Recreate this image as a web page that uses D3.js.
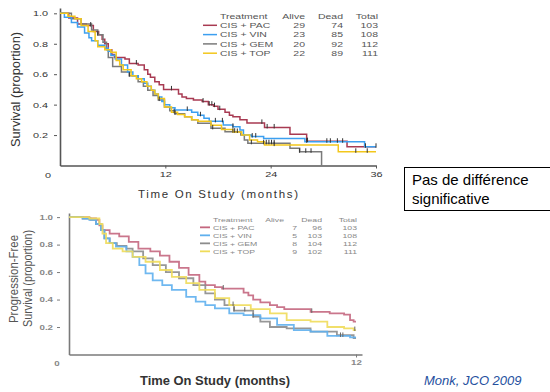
<!DOCTYPE html>
<html>
<head>
<meta charset="utf-8">
<script src="https://cdn.jsdelivr.net/npm/d3@7"></script>
<style>
body{margin:0;background:#fff;overflow:hidden}
svg{display:block;overflow:hidden;font-family:"Liberation Sans",Arial,sans-serif}
</style>
</head>
<body>
<svg id="vis" width="550" height="392"></svg>
<script>
//DATOS
var treatments = ["CIS + PAC", "CIS + VIN", "CIS + GEM", "CIS + TOP"];
var osAlive = [29, 23, 20, 22], osDead = [74, 85, 92, 89], osTotal = [103, 108, 112, 111];
var pfsAlive = [7, 5, 8, 9], pfsDead = [96, 103, 104, 102], pfsTotal = [103, 108, 112, 111];
var osTicksX = [12, 24, 36], pfsTicksX = [12];
var ticksY = [0.2, 0.4, 0.6, 0.8, 1.0];

//SOBREVIDA GLOBAL (meses, proporcion)
var osPacT = [0, 1.0, 2.0, 3.0, 3.8, 4.4, 4.8, 5.1, 5.5, 5.9, 6.2, 7.4, 7.9, 8.9, 9.6, 10.0, 10.3, 10.8, 11.3, 11.8, 13.5, 13.9, 14.4, 15.2, 16.2, 16.9, 17.5, 18.0, 18.8, 19.3, 19.7, 20.5, 21.3, 23.3, 26.2, 28.1, 32.7, 36];
var osPacS = [1.0, 0.97, 0.93, 0.92, 0.88, 0.86, 0.83, 0.80, 0.76, 0.73, 0.71, 0.70, 0.67, 0.66, 0.63, 0.60, 0.58, 0.55, 0.53, 0.50, 0.47, 0.45, 0.44, 0.43, 0.42, 0.40, 0.39, 0.37, 0.35, 0.33, 0.32, 0.30, 0.28, 0.25, 0.205, 0.16, 0.123, 0.123];
var osVinT = [0, 0.5, 1.3, 2.0, 2.8, 3.3, 3.6, 4.3, 5.1, 5.5, 5.8, 6.3, 7.0, 7.7, 8.3, 8.9, 9.6, 10.0, 10.4, 10.8, 11.2, 11.6, 11.9, 12.5, 13.1, 15.0, 15.7, 16.4, 17.0, 18.6, 19.7, 20.5, 20.9, 21.8, 23.2, 27.9, 34.7, 36];
var osVinS = [1.0, 0.975, 0.94, 0.91, 0.87, 0.84, 0.82, 0.79, 0.77, 0.75, 0.725, 0.70, 0.66, 0.615, 0.59, 0.57, 0.54, 0.52, 0.495, 0.47, 0.45, 0.42, 0.40, 0.38, 0.365, 0.35, 0.33, 0.31, 0.29, 0.266, 0.254, 0.233, 0.20, 0.19, 0.178, 0.156, 0.123, 0.123];
var osGemT = [0, 1.3, 2.4, 3.6, 4.3, 4.9, 5.3, 5.5, 6.0, 7.0, 7.9, 8.9, 9.5, 10.0, 10.6, 11.2, 11.9, 12.5, 13.1, 14.2, 15.0, 15.7, 17.2, 18.8, 20.6, 21.0, 21.4, 26.2, 27.3, 29.8];
var osGemS = [1.0, 0.965, 0.93, 0.89, 0.86, 0.81, 0.76, 0.71, 0.65, 0.615, 0.59, 0.55, 0.52, 0.495, 0.46, 0.43, 0.385, 0.36, 0.34, 0.32, 0.30, 0.277, 0.244, 0.222, 0.20, 0.167, 0.146, 0.113, 0.09, 0];
var osTopT = [0, 0.9, 1.7, 2.4, 3.2, 4.0, 4.3, 5.1, 5.8, 6.4, 6.8, 7.2, 8.1, 8.7, 9.3, 9.9, 10.4, 10.8, 11.2, 11.9, 12.7, 13.4, 14.2, 15.0, 15.7, 17.2, 18.4, 19.7, 20.7, 21.6, 22.5, 23.3, 31.7, 36];
var osTopS = [1.0, 0.98, 0.965, 0.92, 0.88, 0.82, 0.78, 0.76, 0.745, 0.69, 0.66, 0.63, 0.59, 0.57, 0.55, 0.52, 0.495, 0.47, 0.44, 0.385, 0.35, 0.335, 0.32, 0.30, 0.29, 0.265, 0.237, 0.22, 0.20, 0.167, 0.156, 0.134, 0.09, 0.09];

var osCensPac = [3.5, 8.7, 12.7, 16.3, 17.0, 17.3, 17.6, 18.2, 23.0, 23.6, 24.4, 28.2];
var osCensVin = [14.5, 16.0, 17.7, 18.5, 19.7, 21.9, 22.3, 28.1, 30.4, 30.8, 31.6, 32.2, 34.8, 36];
var osCensGem = [4.3, 7.9, 11.3, 13.1, 17.4, 19.7, 19.9, 21.8, 23.2, 23.5, 23.8, 24.1, 24.4, 27.3, 28.0, 28.6];
var osCensTop = [13.0, 20.2, 24.4, 33.7, 35.0];

//SOBREVIDA LIBRE DE PROGRESION
var pfsPacT = [0, 0.85, 1.13, 1.27, 1.4, 1.7, 2.1, 2.5, 2.9, 3.4, 3.8, 4.2, 4.6, 5.0, 5.45, 5.7, 6.1, 6.4, 7.3, 7.5, 7.7, 8.0, 8.4, 8.7, 9.0, 10.1, 10.9, 11.5, 11.75, 11.9, 12];
var pfsPacS = [1.0, 0.99, 0.98, 0.94, 0.905, 0.88, 0.86, 0.82, 0.77, 0.75, 0.72, 0.675, 0.63, 0.58, 0.53, 0.505, 0.49, 0.48, 0.45, 0.43, 0.40, 0.38, 0.36, 0.345, 0.33, 0.31, 0.30, 0.29, 0.25, 0.24, 0.24];
var pfsVinT = [0, 0.57, 0.85, 1.13, 1.34, 1.48, 1.7, 1.96, 2.4, 2.66, 2.94, 3.2, 3.5, 3.9, 4.3, 4.9, 5.3, 5.7, 6.1, 6.7, 7.3, 8.0, 8.7, 9.4, 10.1, 10.8, 11.75, 12];
var pfsVinS = [1.0, 0.99, 0.98, 0.95, 0.905, 0.845, 0.81, 0.785, 0.75, 0.71, 0.65, 0.59, 0.54, 0.505, 0.47, 0.42, 0.385, 0.36, 0.336, 0.30, 0.287, 0.263, 0.215, 0.178, 0.166, 0.135, 0.125, 0.125];
var pfsGemT = [0, 0.57, 0.9, 1.13, 1.34, 1.48, 1.7, 2.0, 2.4, 2.66, 3.1, 3.5, 4.05, 4.6, 5.2, 5.7, 6.1, 6.5, 6.9, 7.7, 8.0, 8.4, 9.1, 10.1, 11.2, 11.9, 12];
var pfsGemS = [1.0, 0.99, 0.98, 0.95, 0.905, 0.845, 0.81, 0.79, 0.77, 0.75, 0.70, 0.65, 0.60, 0.555, 0.505, 0.445, 0.40, 0.36, 0.32, 0.275, 0.24, 0.20, 0.19, 0.166, 0.14, 0.12, 0.12];
var pfsTopT = [0, 0.85, 1.27, 1.4, 1.55, 1.83, 2.24, 2.66, 3.2, 3.8, 4.3, 4.9, 5.45, 6.1, 6.7, 7.6, 8.4, 9.1, 10.1, 10.8, 11.5, 11.9, 12];
var pfsTopS = [1.0, 0.99, 0.95, 0.88, 0.81, 0.77, 0.75, 0.71, 0.675, 0.615, 0.565, 0.52, 0.47, 0.41, 0.36, 0.33, 0.30, 0.25, 0.24, 0.20, 0.19, 0.178, 0.178];

var pfsCensPac = [6.45, 10.15];
var pfsCensVin = [11.35, 11.45];
var pfsCensGem = [6.9, 7.35, 7.7];
var pfsCensTop = [6.86, 11.95];

var svg = d3.select("#vis");

function txt(g, x, y, s, o) {
	o = o || {};
	var t = g.append("text")
		.attr("transform", "translate(" + x + "," + y + ")" + (o.rot ? " rotate(" + o.rot + ")" : "") + " scale(" + (o.sx || 1) + ",1)")
		.attr("text-anchor", o.anchor || "start")
		.style("font-size", o.size + "px")
		.style("font-weight", o.weight || "normal")
		.style("font-style", o.italic ? "italic" : "normal")
		.attr("fill", o.fill || "#444")
		.text(s);
	if (o.len) t.attr("textLength", o.len).attr("lengthAdjust", o.adj || "spacingAndGlyphs");
	return t;
}

function km(T, S) {
	return T.map(function (t, i) { return [t, S[i]]; });
}

function survAt(T, S, t) {
	var i = d3.bisectRight(T, t) - 1;
	return S[Math.max(0, i)];
}

function panel(cfg) {
	var x = d3.scaleLinear().domain(cfg.xDom).range(cfg.xRange);
	var y = d3.scaleLinear().domain([0, cfg.yMax]).range(cfg.yRange);
	var g = svg.append("g");

	//ejes
	var ax = g.append("g").attr("transform", "translate(0," + cfg.yRange[0] + ")")
		.call(d3.axisBottom(x).tickValues(cfg.ticksX).tickSize(3).tickSizeOuter(0).tickPadding(cfg.xPad));
	var ay = g.append("g").attr("transform", "translate(" + cfg.xRange[0] + ",0)")
		.call(d3.axisLeft(y).tickValues(ticksY).tickFormat(d3.format(".1f")).tickSize(3).tickSizeOuter(0).tickPadding(cfg.yPad));
	[ax, ay].forEach(function (a) {
		a.select(".domain").attr("stroke", cfg.axis).attr("stroke-width", cfg.axisW);
		a.selectAll(".tick line").attr("stroke", cfg.axis);
		a.selectAll("text").attr("fill", cfg.tickFill)
			.style("font-size", cfg.tickSize + "px").style("font-weight", cfg.tickWeight)
			.style("font-family", "'Liberation Sans',Arial,sans-serif");
	});
	ay.selectAll(".tick line").attr("x1", -cfg.yGap).attr("x2", -cfg.yGap - 3);
	ay.selectAll("text").attr("x", function () { return +d3.select(this).attr("x") / cfg.sx; })
		.attr("transform", "scale(" + cfg.sx + ",1)");
	ax.selectAll("text").attr("transform", "scale(" + cfg.sx + ",1)");
	txt(g, cfg.zero[0], cfg.zero[1], "0", { size: cfg.tickSize, sx: cfg.sx, anchor: "middle", fill: cfg.tickFill, weight: cfg.tickWeight });

	//curvas
	var line = d3.line().curve(d3.curveStepAfter)
		.x(function (d) { return x(d[0]); })
		.y(function (d) { return y(d[1]); });
	cfg.order.forEach(function (i) {
		g.append("path").datum(km(cfg.T[i], cfg.S[i]))
			.attr("d", line).attr("fill", "none")
			.attr("stroke", cfg.colors[i]).attr("stroke-width", cfg.lineW)
			.attr("stroke-opacity", cfg.lineOp);
	});
	cfg.order.forEach(function (i) {
		g.selectAll(null).data(cfg.cens[i]).enter().append("line")
			.attr("x1", function (d) { return x(d); }).attr("x2", function (d) { return x(d); })
			.attr("y1", function (d) { return y(survAt(cfg.T[i], cfg.S[i], d)) - 3.5; })
			.attr("y2", function (d) { return y(survAt(cfg.T[i], cfg.S[i], d)) + 1; })
			.attr("stroke", cfg.censColor).attr("stroke-width", 1);
	});

	//leyenda
	var L = cfg.leg;
	txt(g, L.x, L.y0, "Treatment", { size: L.size, sx: L.sx, fill: L.fill });
	txt(g, L.cols[0] - L.hdrShift, L.y0, "Alive", { size: L.size, sx: L.sx, fill: L.fill, anchor: "end" });
	txt(g, L.cols[1], L.y0, "Dead", { size: L.size, sx: L.sx, fill: L.fill, anchor: "end" });
	txt(g, L.cols[2], L.y0, "Total", { size: L.size, sx: L.sx, fill: L.fill, anchor: "end" });
	treatments.forEach(function (name, i) {
		var yy = L.y0 + L.step * (i + 1);
		g.append("line").attr("x1", L.lx[0]).attr("x2", L.lx[1])
			.attr("y1", yy - L.size * 0.36).attr("y2", yy - L.size * 0.36)
			.attr("stroke", cfg.colors[i]).attr("stroke-width", cfg.lineW);
		txt(g, L.x, yy, name, { size: L.size, sx: L.sx, fill: L.fill });
		txt(g, L.cols[0], yy, cfg.alive[i], { size: L.size, sx: L.sx, fill: L.fill, anchor: "end" });
		txt(g, L.cols[1], yy, cfg.dead[i], { size: L.size, sx: L.sx, fill: L.fill, anchor: "end" });
		txt(g, L.cols[2], yy, cfg.total[i], { size: L.size, sx: L.sx, fill: L.fill, anchor: "end" });
	});
	return g;
}

//PANEL SUPERIOR: SOBREVIDA GLOBAL
panel({
	xDom: [0, 36], xRange: [60, 376], yMax: 1.035, yRange: [165.5, 8],
	ticksX: osTicksX, xPad: 3.5, yPad: 9, yGap: 3, sx: 1.45,
	axis: "#555", axisW: 1.6, tickFill: "#333", tickSize: 7.5, tickWeight: "normal",
	zero: [48, 178],
	T: [osPacT, osVinT, osGemT, osTopT], S: [osPacS, osVinS, osGemS, osTopS],
	cens: [osCensPac, osCensVin, osCensGem, osCensTop],
	colors: ["#a83a52", "#3c9ff0", "#7a7a7a", "#f3c71c"], order: [0, 2, 1, 3],
	lineW: 1.5, lineOp: 1, censColor: "#333",
	alive: osAlive, dead: osDead, total: osTotal,
	leg: { x: 220, y0: 18.7, step: 9.3, size: 7.5, sx: 1.4, fill: "#555", lx: [203, 217], cols: [305, 343, 378], hdrShift: 0 }
});

//PANEL INFERIOR: SOBREVIDA LIBRE DE PROGRESION
panel({
	xDom: [0, 12.25], xRange: [69, 362], yMax: 1.03, yRange: [354.5, 213],
	ticksX: pfsTicksX, xPad: 3, yPad: 13, yGap: 9, sx: 1.5,
	axis: "#7a7a7a", axisW: 1.6, tickFill: "#888", tickSize: 6.5, tickWeight: "bold",
	zero: [57, 366],
	T: [pfsPacT, pfsVinT, pfsGemT, pfsTopT], S: [pfsPacS, pfsVinS, pfsGemS, pfsTopS],
	cens: [pfsCensPac, pfsCensVin, pfsCensGem, pfsCensTop],
	colors: ["#c4677f", "#5fb0ee", "#8c8c8c", "#efdc5a"], order: [0, 2, 1, 3],
	lineW: 1.8, lineOp: 0.9, censColor: "#666",
	alive: pfsAlive, dead: pfsDead, total: pfsTotal,
	leg: { x: 213, y0: 221.5, step: 8, size: 6, sx: 1.45, fill: "#888", lx: [200, 210], cols: [297, 322, 357], hdrShift: 13 }
});

//TITULOS DE EJES
txt(svg, 19.5, 147, "Survival (proportion)", { size: 13.5, rot: -90, fill: "#333", len: 115 });
txt(svg, 218, 198, "Time On Study (months)", { size: 11.5, anchor: "middle", fill: "#333", len: 160, adj: "spacing" });
txt(svg, 17.5, 323, "Progression-Free", { size: 12, rot: -90, fill: "#555", len: 88 });
txt(svg, 31.5, 327, "Survival (proportion)", { size: 12, rot: -90, fill: "#555", len: 97 });
txt(svg, 215, 384.5, "Time On Study (months)", { size: 12, anchor: "middle", fill: "#333", weight: "bold", len: 150 });

//RECUADRO Y CITA
svg.append("rect").attr("x", 404.5).attr("y", 167.5).attr("width", 200).attr("height", 43)
	.attr("fill", "#fff").attr("stroke", "#000").attr("stroke-width", 1);
txt(svg, 412, 185, "Pas de différence", { size: 15, fill: "#000" });
txt(svg, 412, 204, "significative", { size: 15, fill: "#000" });
txt(svg, 424, 385, "Monk, JCO 2009", { size: 13, italic: true, fill: "#244f9e" });
</script>
</body>
</html>
